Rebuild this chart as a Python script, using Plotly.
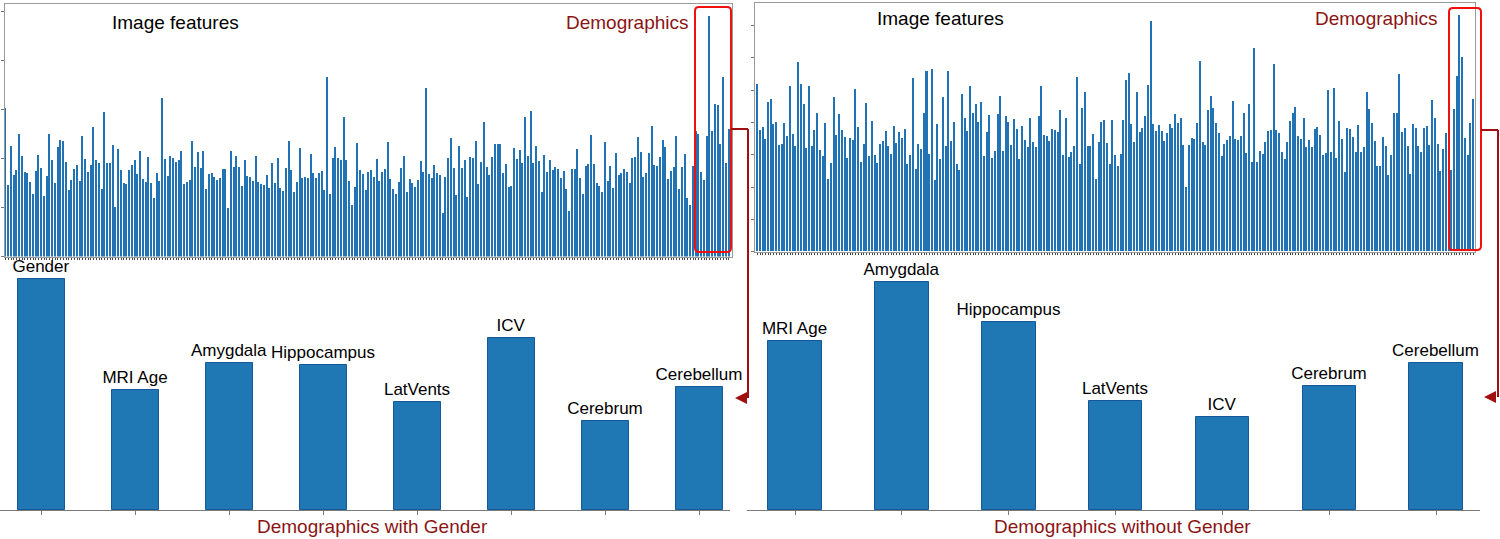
import plotly.graph_objects as go

W, H = 1500, 539
FONT = "Liberation Sans, Arial, Helvetica, sans-serif"

# ---------------- data ----------------
left_features = [
    3.03,1.46,2.25,1.67,1.76,2.50,2.06,1.72,1.71,1.51,1.27,1.75,2.08,1.80,1.24,1.64,2.50,1.96,1.49,2.24,2.37,2.35,
    1.93,1.35,1.56,1.79,1.87,1.54,2.45,1.99,1.73,1.86,2.65,1.96,1.91,1.37,2.94,1.90,1.90,2.27,1.01,2.19,1.76,1.50,
    1.48,1.77,1.87,1.96,1.69,2.16,1.59,1.51,2.03,1.50,1.20,1.70,1.53,3.23,1.98,1.65,2.06,2.01,1.92,1.96,2.16,1.48,
    1.52,1.57,2.35,1.82,2.14,1.80,2.16,1.37,1.68,1.70,1.63,1.56,1.61,1.79,1.79,0.99,2.16,1.82,2.04,1.83,1.43,
    1.96,1.64,1.63,1.55,2.05,1.52,1.48,1.45,1.67,1.39,1.91,1.50,2.01,1.39,1.33,1.80,2.35,1.76,1.32,1.52,2.21,1.60,
    1.63,1.60,2.10,1.70,1.61,1.70,1.75,1.35,3.66,1.28,2.01,2.24,2.01,1.97,2.84,1.97,1.55,1.05,1.41,2.31,1.76,1.68,
    1.36,1.72,1.77,1.63,1.99,1.54,1.73,1.78,2.33,1.59,1.38,1.28,1.52,1.80,2.05,1.31,1.59,1.50,1.41,1.57,1.95,1.73,
    3.44,1.69,1.61,1.86,1.71,1.66,0.88,1.63,2.01,2.42,1.80,1.25,2.26,1.80,1.97,1.21,2.03,2.01,2.36,1.48,1.92,2.75,
    1.82,1.66,2.02,2.29,2.29,2.29,1.71,1.88,1.41,1.43,2.22,1.98,2.17,1.90,2.84,2.06,2.97,1.90,2.25,1.95,1.31,2.07,
    1.73,1.96,1.76,1.82,1.78,1.61,1.75,1.37,0.93,1.78,1.78,2.19,1.60,1.28,1.84,1.88,2.48,1.89,1.50,1.44,1.31,
    2.33,1.53,1.85,1.40,2.11,1.67,1.70,1.79,1.72,1.50,2.01,2.03,2.44,2.13,1.63,1.71,2.11,2.67,1.87,1.85,2.03,2.37,
    2.24,1.59,1.75,1.82,2.46,1.37,1.82,2.09,1.20,1.05,1.84,2.55,2.50,1.73,1.57,2.46,
]
left_demo_names = ["Gender", "MRI Age", "Amygdala", "Hippocampus", "LatVents", "ICV", "Cerebrum", "Cerebellum"]
left_demo_values = [4.90, 2.56, 3.12, 3.08, 2.29, 3.66, 1.90, 2.61]

right_features = [
    5.19,3.76,3.86,3.47,4.63,4.73,3.94,4.00,3.29,3.33,
    3.98,3.56,5.12,3.63,3.25,5.86,5.19,4.55,3.20,5.12,
    3.25,3.76,4.27,3.15,2.96,3.99,2.25,2.75,4.78,3.60,
    4.26,3.76,3.54,2.90,3.52,3.44,5.02,3.84,2.76,3.33,
    4.58,2.96,4.03,2.98,2.75,3.32,3.43,3.73,3.25,3.03,
    3.89,3.35,3.69,3.52,3.80,2.72,2.98,5.37,2.56,3.33,
    3.18,4.27,5.60,3.00,5.64,2.20,3.94,2.85,4.78,3.25,
    5.57,3.42,4.02,2.70,2.53,4.88,4.13,3.72,5.13,4.30,
    4.56,4.00,4.62,2.96,3.71,4.21,2.90,3.12,4.26,4.80,
    3.11,4.18,4.01,3.28,4.09,3.78,2.87,3.87,3.45,3.23,
    4.12,3.38,3.23,4.20,5.12,3.61,3.56,3.43,3.78,3.76,
    3.71,4.38,2.99,4.13,2.92,3.09,3.25,5.40,2.71,4.43,
    4.92,3.27,3.27,3.64,2.24,3.38,4.02,4.07,3.35,2.70,
    4.07,2.97,2.65,3.00,4.07,5.31,5.52,
    3.95,3.38,4.92,3.69,3.81,4.20,5.15,7.13,3.94,3.73,
    3.90,3.73,3.41,3.68,3.94,3.82,4.25,3.96,4.12,3.30,
    1.99,3.29,3.51,3.47,3.96,5.89,3.40,3.28,4.37,4.80,
    4.43,3.97,3.68,2.96,3.31,3.45,3.56,4.67,3.48,3.45,
    3.56,4.27,3.04,4.55,2.78,6.31,2.78,3.12,3.02,3.40,
    3.73,3.76,5.80,3.76,3.66,3.08,2.86,3.40,4.05,4.28,
    4.48,3.57,3.47,4.14,3.24,3.45,3.24,3.78,3.85,3.61,
    2.97,3.06,4.99,3.07,5.05,2.88,4.05,3.49,2.47,3.81,
    3.79,3.54,3.08,3.91,3.07,3.24,4.92,4.42,3.96,3.41,
    2.63,2.63,3.55,3.27,2.36,2.97,4.28,4.28,5.48,3.69,
    3.81,3.27,2.40,3.94,3.81,3.27,3.09,3.81,3.89,3.29,
    4.69,4.13,3.31,2.48,3.16,3.68,2.45,2.53,4.41,
]
right_demo_names = ["MRI Age", "Amygdala", "Hippocampus", "LatVents", "ICV", "Cerebrum", "Cerebellum"]
right_demo_values = [5.43, 7.32, 6.03, 3.51, 2.99, 3.97, 4.71]

title_left = "Demographics with Gender"
title_right = "Demographics without Gender"
label_features = "Image features"
label_demo = "Demographics"

# ---------------- styling ----------------
BAR_THIN = "#2273b6"
BAR_EDGE = "#14579a"
BAR_FILL = "#1f77b4"
DARKRED = "#8b1414"
ARROW = "#a01010"
BOXRED = "#f01010"


def px_x(p):
    return p / W


def px_y(p):
    return 1 - p / H


left_top = left_features + left_demo_values
right_top = right_features + right_demo_values

fig = go.Figure()

fig.add_trace(go.Bar(x=list(range(len(left_top))), y=left_top, width=0.55,
                     marker=dict(color=BAR_THIN, line=dict(width=0)),
                     xaxis="x", yaxis="y", showlegend=False, hoverinfo="skip"))
fig.add_trace(go.Bar(x=list(range(len(left_demo_names))), y=left_demo_values, width=0.5,
                     text=left_demo_names, textposition="outside", cliponaxis=False,
                     constraintext="none",
                     textfont=dict(size=17, color="black", family=FONT),
                     marker=dict(color=BAR_FILL, line=dict(color=BAR_EDGE, width=1)),
                     xaxis="x2", yaxis="y2", showlegend=False, hoverinfo="skip"))
fig.add_trace(go.Bar(x=list(range(len(right_top))), y=right_top, width=0.55,
                     marker=dict(color=BAR_THIN, line=dict(width=0)),
                     xaxis="x3", yaxis="y3", showlegend=False, hoverinfo="skip"))
fig.add_trace(go.Bar(x=list(range(len(right_demo_names))), y=right_demo_values, width=0.5,
                     text=right_demo_names, textposition="outside", cliponaxis=False,
                     constraintext="none",
                     textfont=dict(size=17, color="black", family=FONT),
                     marker=dict(color=BAR_FILL, line=dict(color=BAR_EDGE, width=1)),
                     xaxis="x4", yaxis="y4", showlegend=False, hoverinfo="skip"))

top_x_common = dict(showline=True, mirror=True, linecolor="#9a9a9a", linewidth=1,
                    ticks="outside", ticklen=2, tickcolor="#444", tickwidth=1,
                    showticklabels=False, showgrid=False, zeroline=False)
top_y_common = dict(showline=True, mirror=True, linecolor="#9a9a9a", linewidth=1,
                    ticks="outside", ticklen=3, tickcolor="#777",
                    showticklabels=False, showgrid=False, zeroline=False)
bot_x_common = dict(showline=True, linecolor="#7a7a7a", linewidth=1, ticks="outside",
                    ticklen=4, tickcolor="#7a7a7a", showticklabels=False,
                    showgrid=False, zeroline=False)
bot_y_common = dict(visible=False, showgrid=False, zeroline=False)

n_left, n_right = len(left_top), len(right_top)

fig.update_layout(
    width=W, height=H, margin=dict(l=0, r=0, t=0, b=0),
    paper_bgcolor="white", plot_bgcolor="white", bargap=0,
    font=dict(family=FONT),
    xaxis=dict(domain=[px_x(5), px_x(732)], range=[-0.25, n_left + 0.1],
               tickmode="array", tickvals=list(range(n_left)), anchor="y", **top_x_common),
    yaxis=dict(domain=[px_y(256.5), px_y(4)], range=[0, 5.15], tickmode="array",
               tickvals=[0, 1, 2, 3, 4, 5], anchor="x", **top_y_common),
    xaxis2=dict(domain=[px_x(0), px_x(730)], range=[-0.44, 7.32], tickmode="array",
                tickvals=list(range(len(left_demo_names))), anchor="y2", **bot_x_common),
    yaxis2=dict(domain=[px_y(510), px_y(262)], range=[0, 5.27], anchor="x2", **bot_y_common),
    xaxis3=dict(domain=[px_x(755), px_x(1475)], range=[-0.84, n_right - 0.4],
                tickmode="array", tickvals=list(range(n_right)), anchor="y3", **top_x_common),
    yaxis3=dict(domain=[px_y(251.7), px_y(3.3)], range=[0, 7.69], tickmode="array",
                tickvals=list(range(8)), anchor="x3", **top_y_common),
    xaxis4=dict(domain=[px_x(747), px_x(1480)], range=[-0.45, 6.41], tickmode="array",
                tickvals=list(range(len(right_demo_names))), anchor="y4", **bot_x_common),
    yaxis4=dict(domain=[px_y(510), px_y(262)], range=[0, 7.97], anchor="x4", **bot_y_common),
)


def rounded_rect(x0, y0, x1, y1, r=4):
    X0, X1 = px_x(x0), px_x(x1)
    Y0, Y1 = px_y(y0), px_y(y1)
    rx, ry = r / W, r / H
    return (f"M {X0+rx},{Y0} L {X1-rx},{Y0} Q {X1},{Y0} {X1},{Y0-ry} "
            f"L {X1},{Y1+ry} Q {X1},{Y1} {X1-rx},{Y1} L {X0+rx},{Y1} "
            f"Q {X0},{Y1} {X0},{Y1+ry} L {X0},{Y0-ry} Q {X0},{Y0} {X0+rx},{Y0} Z")


shapes = []
shapes.append(dict(type="path", xref="paper", yref="paper", path=rounded_rect(695, 7, 731, 252),
                   line=dict(color=BOXRED, width=2)))
shapes.append(dict(type="path", xref="paper", yref="paper", path=rounded_rect(1449, 8, 1481, 250),
                   line=dict(color=BOXRED, width=2)))
for (bx, hy, vx, ay) in [(731, 129, 748, 398), (1481, 130, 1498, 397)]:
    shapes.append(dict(type="line", xref="paper", yref="paper", x0=px_x(bx), y0=px_y(hy),
                       x1=px_x(vx), y1=px_y(hy), line=dict(color=ARROW, width=2)))
    shapes.append(dict(type="line", xref="paper", yref="paper", x0=px_x(vx), y0=px_y(hy),
                       x1=px_x(vx), y1=px_y(ay), line=dict(color=ARROW, width=2)))
fig.update_layout(shapes=shapes)

annotations = []
for (hx, ay) in [(735, 398), (1484, 397)]:
    annotations.append(dict(x=px_x(hx), y=px_y(ay), xref="paper", yref="paper", text="",
                            showarrow=True, ax=13, ay=0, arrowhead=2, arrowsize=1.2,
                            arrowwidth=2, arrowcolor=ARROW))
annotations += [
    dict(x=px_x(175), y=px_y(22), xref="paper", yref="paper", text=label_features,
         showarrow=False, font=dict(size=19, color="black"), xanchor="center", yanchor="middle"),
    dict(x=px_x(691), y=px_y(22), xref="paper", yref="paper", text=label_demo,
         showarrow=False, font=dict(size=19, color=DARKRED), xanchor="right", yanchor="middle"),
    dict(x=px_x(940), y=px_y(19), xref="paper", yref="paper", text=label_features,
         showarrow=False, font=dict(size=19, color="black"), xanchor="center", yanchor="middle"),
    dict(x=px_x(1440), y=px_y(19), xref="paper", yref="paper", text=label_demo,
         showarrow=False, font=dict(size=19, color=DARKRED), xanchor="right", yanchor="middle"),
    dict(x=px_x(372), y=px_y(526), xref="paper", yref="paper", text=title_left,
         showarrow=False, font=dict(size=19, color=DARKRED), xanchor="center", yanchor="middle"),
    dict(x=px_x(1122), y=px_y(526), xref="paper", yref="paper", text=title_right,
         showarrow=False, font=dict(size=19, color=DARKRED), xanchor="center", yanchor="middle"),
]
fig.update_layout(annotations=annotations)

fig.write_html("out.html", config={"displayModeBar": False},
               post_script="document.body.style.margin='0';")
